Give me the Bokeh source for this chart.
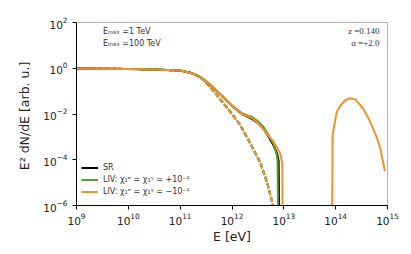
import numpy as np
from bokeh.plotting import figure
from bokeh.models import Legend, LegendItem, Label, FixedTicker, ColumnDataSource
from bokeh.embed import file_html
from bokeh.resources import INLINE

# ---- data (log10 values) ----
# Emax = 100 TeV (solid)
sr_solid_logE = [9.0, 9.5, 10.0, 10.5, 11.0, 11.2, 11.4, 11.6, 11.8, 12.0, 12.2, 12.3, 12.4, 12.5, 12.6, 12.7, 12.8, 12.87, 12.9, 12.91, 12.92]
sr_solid_logY = [-0.01, -0.02, -0.03, -0.05, -0.1, -0.2, -0.4, -0.76, -1.2, -1.65, -2.02, -2.12, -2.24, -2.4, -2.62, -2.97, -3.37, -3.72, -4.05, -6.5, -8.0]

livp_solid_logE = [9.0, 9.5, 10.0, 10.5, 11.0, 11.2, 11.4, 11.6, 11.8, 12.0, 12.2, 12.3, 12.4, 12.5, 12.6, 12.7, 12.8, 12.86, 12.88, 12.89, 12.9]
livp_solid_logY = [-0.01, -0.02, -0.03, -0.05, -0.1, -0.2, -0.4, -0.75, -1.18, -1.63, -1.98, -2.06, -2.14, -2.32, -2.55, -2.9, -3.3, -3.75, -4.05, -6.5, -8.0]

livm_solid_logE = [9.0, 9.5, 10.0, 10.5, 11.0, 11.2, 11.4, 11.6, 11.8, 12.0, 12.2, 12.3, 12.4, 12.5, 12.6, 12.7, 12.8, 12.93, 12.97, 12.98,
                   13.93, 13.94, 14.02, 14.09, 14.18, 14.28, 14.38, 14.53, 14.63, 14.72, 14.8, 14.86, 14.95]
livm_solid_logY = [-0.01, -0.02, -0.03, -0.05, -0.1, -0.2, -0.4, -0.76, -1.2, -1.65, -2.02, -2.1, -2.2, -2.4, -2.65, -2.95, -3.2, -3.72, -4.16, -8.0,
                   -8.0, -2.93, -1.92, -1.63, -1.41, -1.31, -1.36, -1.76, -2.17, -2.63, -3.07, -3.5, -4.5]

# Emax = 1 TeV (dashed)
sr_dash_logE = [9.0, 9.5, 10.0, 10.5, 11.0, 11.2, 11.3, 11.45, 11.58, 11.7, 11.84, 12.0, 12.16, 12.35, 12.55, 12.68, 12.78, 12.82]
sr_dash_logY = [-0.01, -0.02, -0.03, -0.05, -0.1, -0.2, -0.28, -0.5, -0.83, -1.15, -1.55, -2.0, -2.5, -3.28, -4.16, -5.03, -5.9, -6.5]
livp_dash_logY = [-0.01, -0.02, -0.03, -0.05, -0.1, -0.2, -0.28, -0.49, -0.82, -1.13, -1.53, -1.98, -2.48, -3.25, -4.12, -4.98, -5.85, -6.5]
livm_dash_logY = [-0.01, -0.02, -0.03, -0.05, -0.1, -0.2, -0.28, -0.5, -0.83, -1.15, -1.55, -2.0, -2.5, -3.28, -4.16, -5.03, -5.9, -6.5]

x_ticks = [1e9, 1e10, 1e11, 1e12, 1e13, 1e14, 1e15]
y_ticks = [1e-6, 1e-4, 1e-2, 1e0, 1e2]

labels = ["SR", "LIV: χ₁ᵉ = χ₁ᵞ = +10⁻¹", "LIV: χ₁ᵉ = χ₁ᵞ = −10⁻¹"]
emax_labels = ["Eₘₐₓ =1 TeV", "Eₘₐₓ =100 TeV"]
info_lines = ["z =0.140", "α =+2.0"]

colors = ["#000000", "#559e1e", "#f5902e"]

def pw(a):
    return np.power(10.0, np.asarray(a, dtype=float))

p = figure(width=411, height=254, x_axis_type="log", y_axis_type="log",
           x_range=(1e9, 1e15), y_range=(1e-6, 1e2),
           output_backend="svg", toolbar_location=None,
           min_border_left=76, min_border_right=24, min_border_top=22, min_border_bottom=49)
p.background_fill_color = "white"
p.border_fill_color = "white"
p.outline_line_color = "#b5b5b5"
p.outline_line_width = 1
p.grid.visible = False

dash_sets = [(sr_dash_logE, sr_dash_logY), (sr_dash_logE, livp_dash_logY), (sr_dash_logE, livm_dash_logY)]
solid_sets = [(sr_solid_logE, sr_solid_logY), (livp_solid_logE, livp_solid_logY), (livm_solid_logE, livm_solid_logY)]

series_renderers = []
for (xe, ye), c in zip(dash_sets, colors):
    p.line(pw(xe), pw(ye), line_color=c, line_width=2, line_dash="5 2")
for (xe, ye), c in zip(solid_sets, colors):
    r = p.line(pw(xe), pw(ye), line_color=c, line_width=2)
    series_renderers.append(r)

# dummy renderers for Emax legend
empty = ColumnDataSource(data=dict(x=[], y=[]))
d1 = p.line("x", "y", source=empty, line_color="#555555", line_width=2, line_dash="5 2")
d2 = p.line("x", "y", source=empty, line_color="#555555", line_width=2)

def style_legend(lg):
    lg.background_fill_alpha = 0
    lg.border_line_alpha = 0
    lg.label_text_font = "DejaVu Sans"
    lg.label_text_font_size = "8px"
    lg.label_text_color = "#333333"
    lg.glyph_width = 17
    lg.glyph_height = 11
    lg.label_height = 11
    lg.label_standoff = 5
    lg.spacing = 1
    lg.padding = 4
    lg.margin = 0

leg_emax = Legend(items=[LegendItem(label=emax_labels[0], renderers=[d1]),
                         LegendItem(label=emax_labels[1], renderers=[d2])],
                  location=(1, 152))
style_legend(leg_emax)
p.add_layout(leg_emax)

leg_series = Legend(items=[LegendItem(label=l, renderers=[r]) for l, r in zip(labels, series_renderers)],
                    location=(1, 4))
style_legend(leg_series)
p.add_layout(leg_series)

for i, t in enumerate(info_lines):
    p.add_layout(Label(x=303, y=175 - 12 * i, x_units="screen", y_units="screen", text=t,
                       text_align="right", text_baseline="middle", text_font="Liberation Serif",
                       text_font_size="9px", text_color="#333333"))

for ax in (p.xaxis[0], p.yaxis[0]):
    ax.axis_line_color = "black"
    ax.axis_line_width = 1
    ax.major_tick_line_color = "black"
    ax.major_tick_out = 4
    ax.major_tick_in = 0
    ax.minor_tick_line_color = None
    ax.major_label_text_font = "DejaVu Sans"
    ax.major_label_text_font_size = "10.5px"
    ax.major_label_text_color = "#222222"
    ax.axis_label_text_font = "DejaVu Sans"
    ax.axis_label_text_font_size = "12.5px"
    ax.axis_label_text_font_style = "normal"
    ax.axis_label_text_color = "#222222"

p.xaxis[0].ticker = FixedTicker(ticks=x_ticks)
p.yaxis[0].ticker = FixedTicker(ticks=y_ticks)
p.xaxis[0].axis_label = "E [eV]"
p.yaxis[0].axis_label = "E² dN/dE  [arb. u.]"
p.xaxis[0].major_label_standoff = 3
p.xaxis[0].axis_label_standoff = 1
p.yaxis[0].axis_label_standoff = 8

open("out.html", "w").write(file_html(p, INLINE))
